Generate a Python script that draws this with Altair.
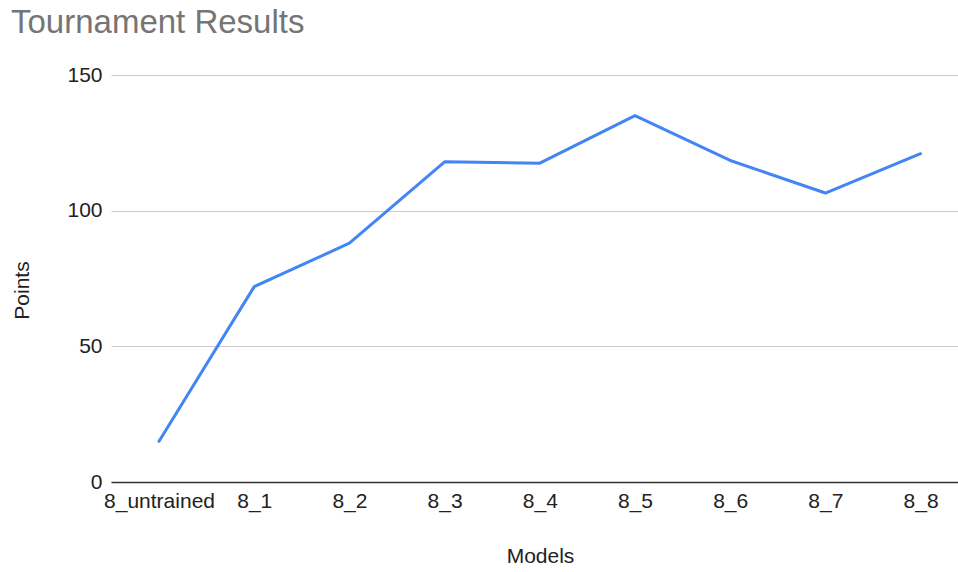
import altair as alt
import pandas as pd

models = ["8_untrained", "8_1", "8_2", "8_3", "8_4", "8_5", "8_6", "8_7", "8_8"]
points = [15, 72, 88, 118, 117.5, 135, 118.5, 106.5, 121]

df = pd.DataFrame({"Models": models, "Points": points})

FONT = "Liberation Sans"

chart = (
    alt.Chart(df)
    .mark_line(color="#4285F4", strokeWidth=3, strokeJoin="round", strokeCap="round")
    .encode(
        x=alt.X(
            "Models:N",
            sort=models,
            scale=alt.Scale(type="point", padding=0.449, align=0.562),
            axis=alt.Axis(
                title="Models",
                labelAngle=0,
                labelFontSize=21,
                labelColor="#222222",
                labelFont=FONT,
                labelPadding=8,
                ticks=False,
                domain=True,
                domainColor="#333333",
                domainWidth=1.5,
                grid=False,
                titleFont=FONT,
                titleFontSize=21,
                titleFontWeight="normal",
                titleColor="#222222",
                titleX=429,
                titleY=74,
                titleBaseline="middle",
                titleAnchor="middle",
            ),
        ),
        y=alt.Y(
            "Points:Q",
            scale=alt.Scale(domain=[0, 150], nice=False),
            axis=alt.Axis(
                title="Points",
                values=[0, 50, 100, 150],
                labelFontSize=21,
                labelColor="#222222",
                labelFont=FONT,
                labelPadding=9,
                ticks=False,
                domain=False,
                gridColor="#cccccc",
                gridWidth=1.2,
                titleFont=FONT,
                titleFontSize=21,
                titleFontWeight="normal",
                titleColor="#222222",
                titleX=-89,
                titleY=215,
                titleAngle=-90,
                titleBaseline="middle",
                titleAnchor="middle",
            ),
        ),
    )
    .properties(
        width=847,
        height=407,
        autosize=alt.AutoSizeParams(type="none"),
        padding={"left": 111, "top": 75, "right": 0, "bottom": 90},
        title=alt.TitleParams(
            "Tournament Results",
            anchor="start",
            font=FONT,
            fontSize=33,
            fontWeight="normal",
            color="#757575",
            dy=-20,
        ),
    )
    .configure(background="white")
    .configure_view(strokeWidth=0, stroke="transparent")
)

chart.save("out.html", embed_options={"renderer": "svg", "actions": False})
